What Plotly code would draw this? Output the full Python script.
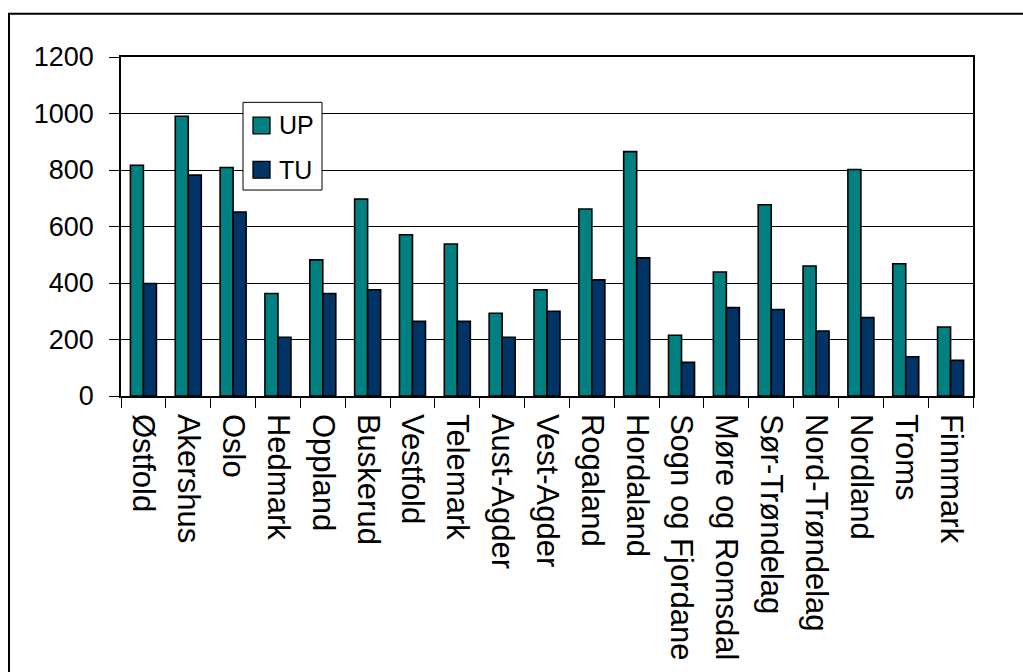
import plotly.graph_objects as go

categories = ["Østfold", "Akershus", "Oslo", "Hedmark", "Oppland", "Buskerud",
              "Vestfold", "Telemark", "Aust-Agder", "Vest-Agder", "Rogaland",
              "Hordaland", "Sogn og Fjordane", "Møre og Romsdal", "Sør-Trøndelag",
              "Nord-Trøndelag", "Nordland", "Troms", "Finnmark"]
up_values = [817, 990, 809, 363, 482, 697, 571, 538, 293, 376, 662, 865,
             215, 439, 677, 460, 802, 468, 244]
tu_values = [398, 782, 651, 208, 363, 376, 264, 264, 208, 300, 411, 489,
             119, 313, 306, 230, 278, 139, 126]
series_names = ["UP", "TU"]
series_colors = ["#008080", "#003366"]
y_ticks = [0, 200, 400, 600, 800, 1000, 1200]

W, H = 1023, 672
# plot area in page pixels: x 121..973, y 57..401
PL, PR, PT, PB = 121, 973, 57, 401
L, T = PL, PT
R, B = W - PR, H - PB
PW, PH = PR - PL, PB - PT
FONT = "Liberation Sans, Arial, sans-serif"


def px(x):
    return (x - PL) / PW


def py(y):
    return (PB - y) / PH


fig = go.Figure()
for name, vals, col in zip(series_names, [up_values, tu_values], series_colors):
    fig.add_trace(go.Bar(x=categories, y=vals, name=name,
                         marker=dict(color=col, line=dict(color="black", width=1.6))))

fig.update_layout(
    width=W, height=H,
    margin=dict(l=L, r=R, t=T, b=B, pad=0),
    paper_bgcolor="white", plot_bgcolor="white",
    barmode="group", bargap=0.42, bargroupgap=0,
    showlegend=False,
    font=dict(family=FONT, color="black"),
)
fig.update_xaxes(
    type="category", showline=True, linecolor="black", linewidth=1.5, mirror=True,
    ticks="outside", tickson="boundaries", ticklen=10, tickcolor="black", tickwidth=1,
    tickangle=90, tickfont=dict(size=31, family=FONT, color="black"),
    showgrid=False, ticklabelstandoff=10,
)
fig.update_yaxes(
    range=[0, 1200], tickvals=y_ticks, showline=True, linecolor="black", linewidth=1.5,
    mirror=True, ticks="outside", ticklen=10, tickcolor="black", tickwidth=1,
    showgrid=True, gridcolor="black", gridwidth=1, zeroline=False,
    tickfont=dict(size=27, family=FONT, color="black"), ticklabelstandoff=10,
)

shapes = []
# outer frame
shapes.append(dict(type="rect", xref="paper", yref="paper",
                   x0=px(9), x1=px(1060), y0=py(13), y1=py(720),
                   line=dict(color="black", width=2), fillcolor="rgba(0,0,0,0)", layer="above"))
# legend box
shapes.append(dict(type="rect", xref="paper", yref="paper",
                   x0=px(243), x1=px(322), y0=py(103), y1=py(192),
                   line=dict(color="black", width=1), fillcolor="white", layer="above"))
sq = [(118, 135), (163, 180)]
annotations = []
for (y0, y1), col, name in zip(sq, series_colors, series_names):
    shapes.append(dict(type="rect", xref="paper", yref="paper",
                       x0=px(253), x1=px(270), y0=py(y0), y1=py(y1),
                       line=dict(color="black", width=1.3), fillcolor=col, layer="above"))
    annotations.append(dict(xref="paper", yref="paper", x=px(277), y=py((y0 + y1) / 2),
                            text=name, showarrow=False, xanchor="left", yanchor="middle",
                            font=dict(size=25, family=FONT, color="black")))
fig.update_layout(shapes=shapes, annotations=annotations)

fig.write_html("out.html", config={"displayModeBar": False},
               post_script="document.body.style.margin='0';document.body.style.overflow='hidden';")
